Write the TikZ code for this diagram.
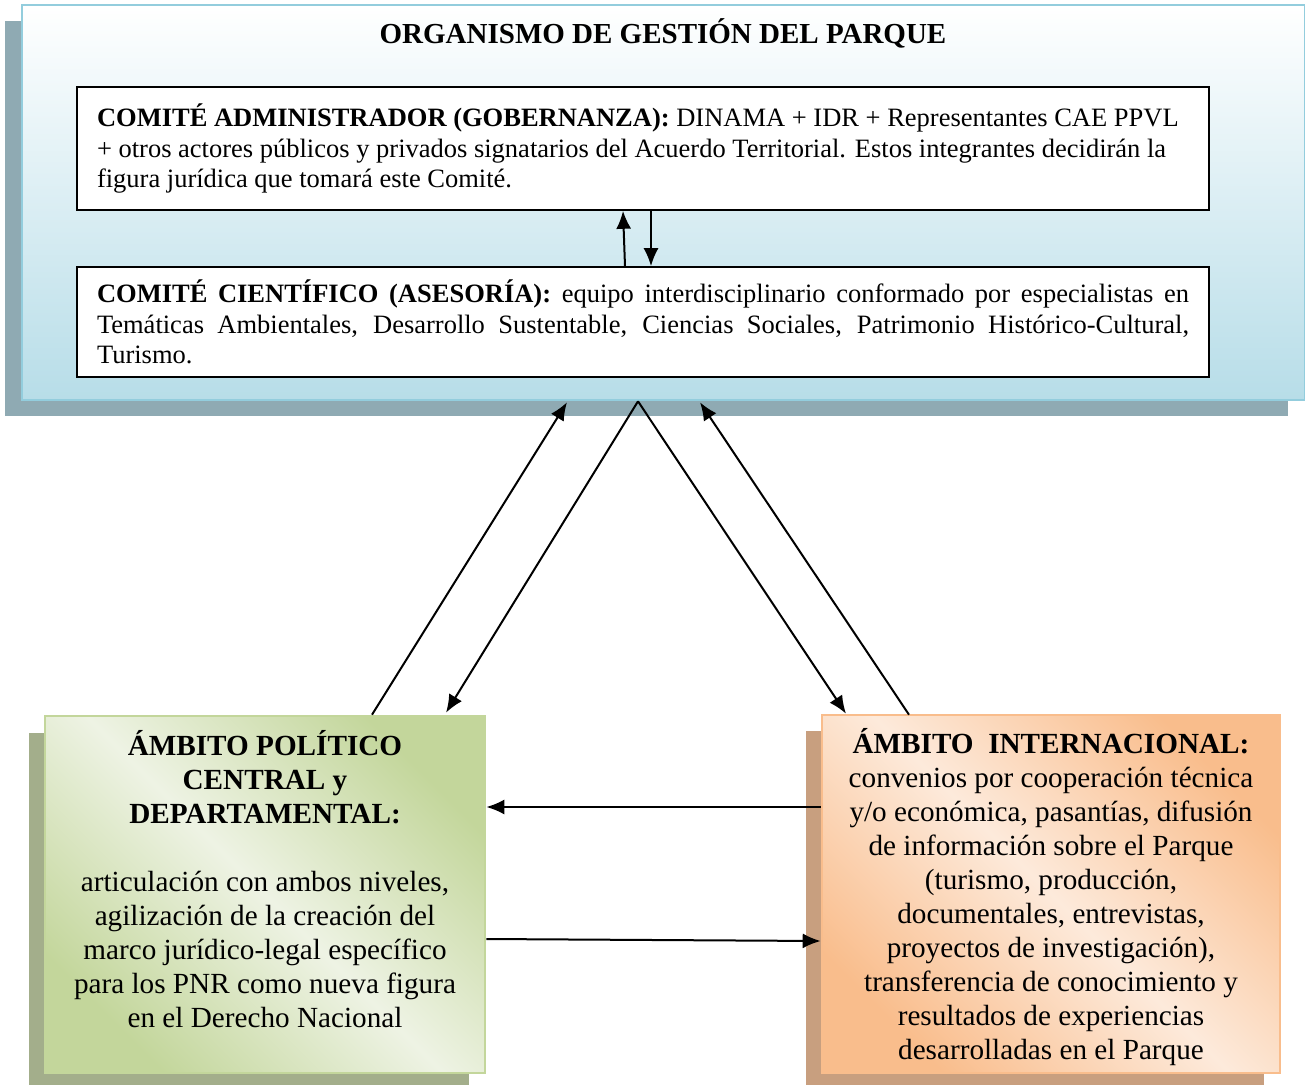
\documentclass[tikz,border=0pt]{standalone}
\usepackage{fontspec}
\setmainfont{Liberation Serif}
\usetikzlibrary{arrows.meta,shadows}

\definecolor{cyanline}{HTML}{93CDDD}
\definecolor{cyanfill}{HTML}{B7DDE8}
\definecolor{cyanshadow}{HTML}{8FAAB3}
\definecolor{greenlight}{HTML}{EEF3E4}
\definecolor{greendark}{HTML}{C3D69B}
\definecolor{greenshadow}{HTML}{A3AE8B}
\definecolor{orangelight}{HTML}{FDEADB}
\definecolor{orangedark}{HTML}{F9BD8C}
\definecolor{orangeshadow}{HTML}{C89F7F}

\begin{document}
\begin{tikzpicture}[x=0.5pt,y=-0.5pt,->,>={Latex[length=9pt,width=7.5pt]},line width=1pt,
	outer box/.style={draw=cyanline,line width=1.3pt,top color=white,bottom color=cyanfill,minimum width=641.5pt,minimum height=197.5pt,general shadow={fill=cyanshadow,shadow xshift=-8.5pt,shadow yshift=-8pt}},
	comite box/.style={draw,fill=white,line width=0.8pt,inner sep=0pt,minimum width=566pt,text width=546pt,font=\fontsize{13.25}{15.4}\selectfont},
	ambito box/.style={line width=1.3pt,inner sep=0pt,font=\fontsize{14.6}{17}\selectfont},
	politico box/.style={ambito box,draw=greendark,left color=greendark,right color=greendark,middle color=greenlight,shading angle=135,general shadow={fill=greenshadow,shadow xshift=-8pt,shadow yshift=-8.5pt}},
	internacional box/.style={ambito box,draw=orangedark,left color=orangedark,right color=orangedark,middle color=orangelight,shading angle=135,general shadow={fill=orangeshadow,shadow xshift=-8pt,shadow yshift=-8pt}}]
	
	\useasboundingbox (0,0) rectangle (1305,1085);
	
	\node[outer box] (organismo) at (663.5,202.5) {};
	\node[font=\fontsize{14.5}{17}\selectfont\bfseries] (titulo) at (663,33) {ORGANISMO DE GESTIÓN DEL PARQUE};
	
	\node[comite box,minimum height=61.5pt,align=flush left] (admin) at (643,148.5)
	{\mbox{\textbf{COMITÉ ADMINISTRADOR (GOBERNANZA):} DINAMA + IDR + Representantes CAE PPVL}\\
		\mbox{+ otros actores públicos y privados signatarios del Acuerdo Territorial. Estos integrantes decidirán la}\\
		figura jurídica que tomará este Comité.};
	\node[comite box,minimum height=55pt,align=justify] (cientifico) at (643,322)
	{\textbf{COMITÉ CIENTÍFICO (ASESORÍA):} equipo interdisciplinario conformado por especialistas en\linebreak
		Temáticas Ambientales, Desarrollo Sustentable, Ciencias Sociales, Patrimonio Histórico-Cultural,\linebreak
		Turismo.};
	
	\node[politico box] (politico) at (265,894.5)
	{\parbox[c][178.5pt][t]{220pt}{\centering\rule{0pt}{19.5pt}\textbf{ÁMBITO POLÍTICO}\\
			\textbf{CENTRAL y}\\
			\textbf{DEPARTAMENTAL:}\\[17pt]
			articulación con ambos niveles,\\
			agilización de la creación del\\
			marco jurídico-legal específico\\
			para los PNR como nueva figura\\
			en el Derecho Nacional}};
	\node[internacional box] (internacional) at (1051,894)
	{\parbox[c][179pt][t]{229pt}{\centering\rule{0pt}{19pt}\textbf{ÁMBITO\ \ INTERNACIONAL:}\\
			convenios por cooperación técnica\\
			y/o económica, pasantías, difusión\\
			de información sobre el Parque\\
			(turismo, producción,\\
			documentales, entrevistas,\\
			proyectos de investigación),\\
			transferencia de conocimiento y\\
			resultados de experiencias\\
			desarrolladas en el Parque}};
	
	% entre comites
	\draw ([xshift=-9pt]cientifico.north) -- ([xshift=-10pt]admin.south);
	\draw ([xshift=4pt]admin.south) -- ([xshift=4pt]cientifico.north);
	
	% triangulo
	\draw ([xshift=53.5pt]politico.north) -- ([xshift=-48.25pt,yshift=-0.5pt]organismo.south);
	\draw ([xshift=-12.75pt]organismo.south) -- ([xshift=90.5pt,yshift=1pt]politico.north);
	\draw ([xshift=-12.75pt]organismo.south) -- ([xshift=-102.5pt]internacional.north);
	\draw ([xshift=-71pt,yshift=-0.5pt]internacional.north) -- ([xshift=18.25pt,yshift=-0.5pt]organismo.south);
	
	\draw ([yshift=43.5pt]internacional.west) -- ([yshift=43.75pt]politico.east);
	\draw ([yshift=-22.25pt]politico.east) -- ([yshift=-23.5pt]internacional.west);
	
\end{tikzpicture}
\end{document}
